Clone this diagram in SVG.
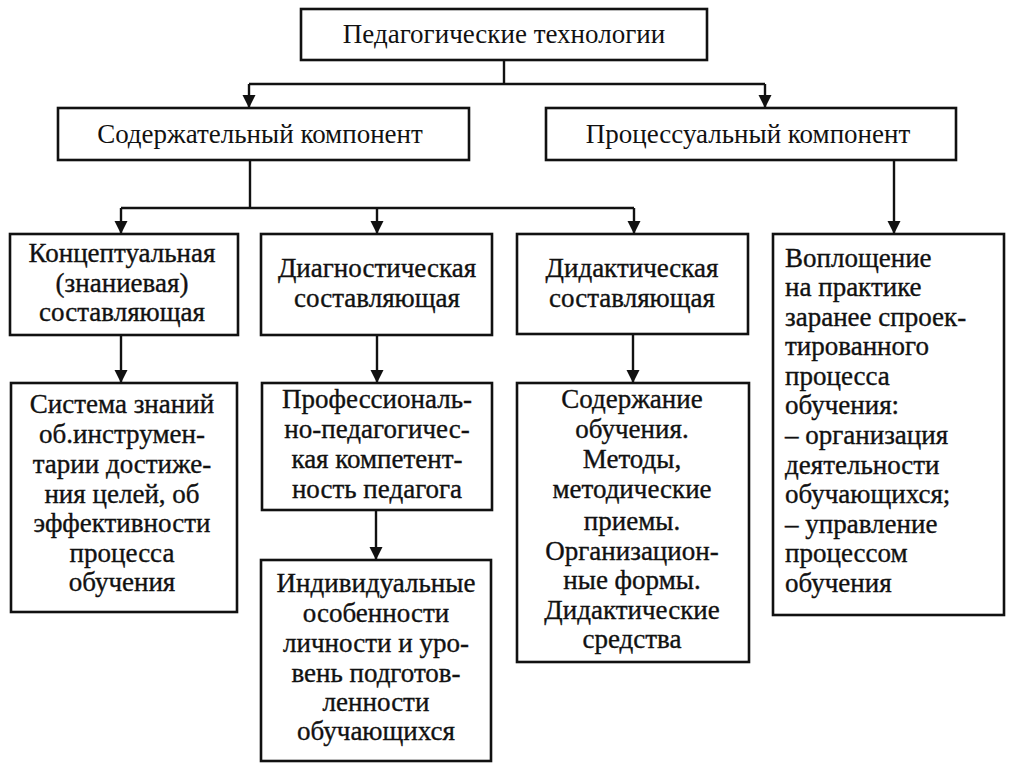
<svg xmlns="http://www.w3.org/2000/svg" width="1018" height="769" viewBox="0 0 1018 769">
<style>
.box{fill:#fff;stroke:#111;stroke-width:2.6}
.t{font-family:"Liberation Serif","Times New Roman",serif;font-size:27px;fill:#111;text-anchor:middle}
.b{font-family:"Liberation Serif","Times New Roman",serif;font-size:27px;fill:#111;text-anchor:middle;stroke:#111;stroke-width:0.35}
.l{text-anchor:start}
.c{fill:none;stroke:#111;stroke-width:2.4}
</style>
<defs>
<marker id="ar" markerUnits="userSpaceOnUse" markerWidth="14" markerHeight="14" refX="13" refY="6.5" orient="auto">
<path d="M0,0 L13,6.5 L0,13 z" fill="#111"/>
</marker>
</defs>
<rect width="1018" height="769" fill="#fff"/>
<g id="connectors">
<path class="c" d="M504,60 V84 M249,84 H765"/>
<path class="c" d="M249,84 V108" marker-end="url(#ar)"/>
<path class="c" d="M765,84 V108" marker-end="url(#ar)"/>
<path class="c" d="M250,160 V208 M121,208 H634"/>
<path class="c" d="M121,208 V234" marker-end="url(#ar)"/>
<path class="c" d="M377,208 V234" marker-end="url(#ar)"/>
<path class="c" d="M634,208 V234" marker-end="url(#ar)"/>
<path class="c" d="M894,160 V234" marker-end="url(#ar)"/>
<path class="c" d="M121,335 V383" marker-end="url(#ar)"/>
<path class="c" d="M377,335 V383" marker-end="url(#ar)"/>
<path class="c" d="M633,334 V383" marker-end="url(#ar)"/>
<path class="c" d="M376,510 V560" marker-end="url(#ar)"/>
</g>
<g id="n-top">
<rect class="box" x="301" y="9" width="406" height="51"/>
<text class="t" x="504" y="43">Педагогические технологии</text>
</g>
<g id="n-content">
<rect class="box" x="58" y="108" width="411" height="52"/>
<text class="t" x="260" y="143">Содержательный компонент</text>
</g>
<g id="n-process">
<rect class="box" x="546" y="108" width="410" height="52"/>
<text class="t" x="748" y="143">Процессуальный компонент</text>
</g>
<g id="n-concept">
<rect class="box" x="10" y="234" width="228" height="101"/>
<text class="b" x="122" y="262">Концептуальная</text>
<text class="b" x="122" y="292">(знаниевая)</text>
<text class="b" x="122" y="321">составляющая</text>
</g>
<g id="n-diag">
<rect class="box" x="261" y="234" width="231" height="101"/>
<text class="b" x="377" y="277">Диагностическая</text>
<text class="b" x="377" y="307">составляющая</text>
</g>
<g id="n-didact">
<rect class="box" x="517" y="234" width="231" height="100"/>
<text class="b" x="632" y="277">Дидактическая</text>
<text class="b" x="632" y="307">составляющая</text>
</g>
<g id="n-embody">
<rect class="box" x="773" y="234" width="231" height="381"/>
<text class="b l" x="785" y="267">Воплощение</text>
<text class="b l" x="785" y="296">на практике</text>
<text class="b l" x="785" y="326">заранее спроек-</text>
<text class="b l" x="785" y="355">тированного</text>
<text class="b l" x="785" y="385">процесса</text>
<text class="b l" x="785" y="414">обучения:</text>
<text class="b l" x="785" y="444">– организация</text>
<text class="b l" x="785" y="474">деятельности</text>
<text class="b l" x="785" y="503">обучающихся;</text>
<text class="b l" x="785" y="533">– управление</text>
<text class="b l" x="785" y="562">процессом</text>
<text class="b l" x="785" y="592">обучения</text>
</g>
<g id="n-system">
<rect class="box" x="11" y="383" width="226" height="229"/>
<text class="b" x="122" y="413">Система знаний</text>
<text class="b" x="122" y="443">об.инструмен-</text>
<text class="b" x="122" y="473">тарии достиже-</text>
<text class="b" x="122" y="503">ния целей, об</text>
<text class="b" x="122" y="532">эффективности</text>
<text class="b" x="122" y="562">процесса</text>
<text class="b" x="122" y="591">обучения</text>
</g>
<g id="n-prof">
<rect class="box" x="262" y="383" width="230" height="127"/>
<text class="b" x="377" y="408">Профессиональ-</text>
<text class="b" x="377" y="438">но-педагогичес-</text>
<text class="b" x="377" y="468">кая компетент-</text>
<text class="b" x="377" y="498">ность педагога</text>
</g>
<g id="n-indiv">
<rect class="box" x="261" y="560" width="230" height="201"/>
<text class="b" x="376" y="592">Индивидуальные</text>
<text class="b" x="376" y="622">особенности</text>
<text class="b" x="376" y="652">личности и уро-</text>
<text class="b" x="376" y="682">вень подготов-</text>
<text class="b" x="376" y="711">ленности</text>
<text class="b" x="376" y="740">обучающихся</text>
</g>
<g id="n-didcontent">
<rect class="box" x="517" y="383" width="232" height="279"/>
<text class="b" x="632" y="408">Содержание</text>
<text class="b" x="632" y="438">обучения.</text>
<text class="b" x="632" y="468">Методы,</text>
<text class="b" x="632" y="498">методические</text>
<text class="b" x="632" y="530">приемы.</text>
<text class="b" x="632" y="560">Организацион-</text>
<text class="b" x="632" y="589">ные формы.</text>
<text class="b" x="632" y="619">Дидактические</text>
<text class="b" x="632" y="648">средства</text>
</g>
</svg>
